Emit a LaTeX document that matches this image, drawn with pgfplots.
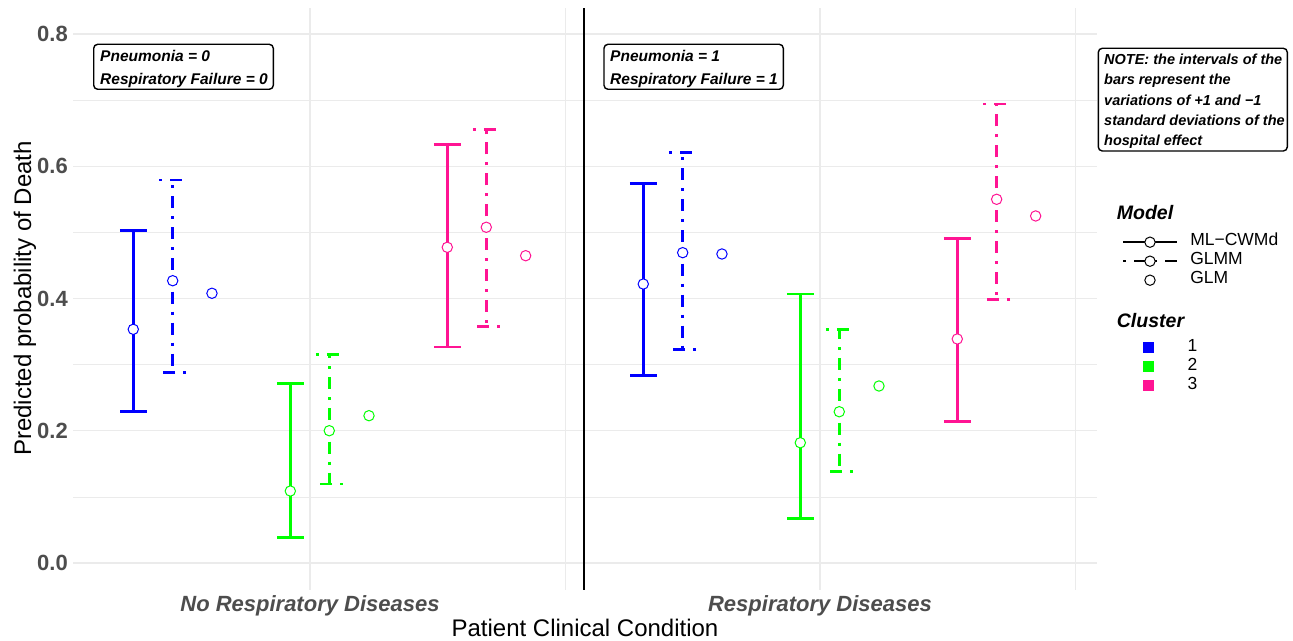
\documentclass[border=0pt]{standalone}
\usepackage{fontspec}
\setmainfont{Liberation Sans}
\usepackage{pgfplots}
\pgfplotsset{compat=1.18}
\definecolor{cA}{HTML}{0000FF}
\definecolor{cB}{HTML}{00FF00}
\definecolor{cC}{HTML}{FF1493}
\definecolor{tickgray}{HTML}{4D4D4D}
\definecolor{gridgray}{HTML}{EBEBEB}
\pgfplotsset{
  ptmark/.style={only marks, mark=*, mark size=5.2bp, mark options={solid, fill=white, draw=#1, line width=1bp}},
  mlbar/.style={ptmark=#1,
    error bars/.cd, y dir=both, y explicit,
    error bar style={#1, line width=2.6bp, solid},
    error mark options={rotate=90, #1, line width=2.6bp, mark size=13.5bp, solid}},
  glmmbar/.style={ptmark=#1,
    error bars/.cd, y dir=both, y explicit,
    error bar style={#1, line width=2.6bp, dash pattern=on 3bp off 8bp on 12bp off 8bp},
    error mark options={rotate=90, #1, line width=2.6bp, mark size=13.5bp, dash pattern=on 3bp off 8bp on 12bp off 8bp}},
  table/errtab/.style={x=x, y=y, y error plus expr=\thisrow{hi}-\thisrow{y}, y error minus expr=\thisrow{y}-\thisrow{lo}},
  frame/.style={at={(73bp,51.5bp)}, anchor=south west, scale only axis, width=1023.5bp, height=582bp},
  legbase/.style={legend cell align=left,
    legend style={anchor=north west, draw=none, fill=none, inner sep=0pt, outer sep=0pt,
      font=\fontsize{17.5bp}{21bp}\selectfont, row sep=0pt, column sep=0pt,
      nodes={inner sep=0pt, text height=13bp, text depth=6bp},
      /tikz/every odd column/.append style={column sep=12bp}}},
}
\begin{document}
\begin{tikzpicture}
\path[use as bounding box] (0bp,0bp) rectangle (1293bp,641bp);
\begin{axis}[frame, legbase,
  xmin=0.5353, xmax=2.5422, ymin=-0.04, ymax=0.84,
  xtick={1,2}, xticklabels={No Respiratory Diseases, Respiratory Diseases},
  minor xtick={1.5,2.5},
  ytick={0,0.2,0.4,0.6,0.8}, yticklabels={0.0,0.2,0.4,0.6,0.8},
  minor ytick={0.1,0.3,0.5,0.7},
  grid=both,
  major grid style={gridgray, line width=1.3bp},
  minor grid style={gridgray, line width=0.7bp},
  axis line style={draw=none},
  major tick length=0pt, minor tick length=0pt,
  xticklabel style={font=\fontsize{22bp}{26bp}\selectfont\bfseries\itshape, text=tickgray, anchor=base, yshift=-21.5bp},
  yticklabel style={font=\fontsize{22bp}{26bp}\selectfont\bfseries, text=tickgray, anchor=east, inner sep=0pt, xshift=-5bp},
  legend style={at={(axis description cs:1.02462,0.61306)}},
  legend image code/.code={\path[draw=none,fill=none] (0bp,0bp) -- (54bp,0bp); \draw[mark repeat=2,mark phase=2,#1] plot coordinates {(0bp,0bp) (27bp,0bp) (54bp,0bp)};},
]
% separator line
\addplot[forget plot, black, line width=1.5bp] coordinates {(1.5373,-0.04) (1.5373,0.84)};
% Cluster 1
\addplot[forget plot, mlbar=cA] table[errtab] {
x y lo hi
0.6535 0.3534 0.2288 0.5025
1.6535 0.4219 0.2833 0.5742
};
\addplot[forget plot, glmmbar=cA] table[errtab] {
x y lo hi
0.7308 0.4269 0.2878 0.5792
1.7308 0.4693 0.3232 0.6205
};
\addplot[forget plot, ptmark=cA] table[x=x,y=y] {
x y
0.8078 0.4079
1.8078 0.4673
};
% Cluster 2
\addplot[forget plot, mlbar=cB] table[errtab] {
x y lo hi
0.9614 0.1089 0.0383 0.2718
1.9614 0.1819 0.0670 0.4068
};
\addplot[forget plot, glmmbar=cB] table[errtab] {
x y lo hi
1.0378 0.2001 0.1195 0.3156
2.0378 0.2288 0.1381 0.3534
};
\addplot[forget plot, ptmark=cB] table[x=x,y=y] {
x y
1.1157 0.2228
2.1157 0.2677
};
% Cluster 3
\addplot[forget plot, mlbar=cC] table[errtab] {
x y lo hi
1.2692 0.4774 0.3267 0.6326
2.2692 0.3388 0.2137 0.4910
};
\addplot[forget plot, glmmbar=cC] table[errtab] {
x y lo hi
1.3457 0.5077 0.3580 0.6559
2.3464 0.5500 0.3988 0.6941
};
\addplot[forget plot, ptmark=cC] table[x=x,y=y] {
x y
1.4229 0.4647
2.4229 0.5248
};
\addlegendimage{black, line width=2.6bp, mark=*, mark size=5.2bp, mark options={solid, fill=white, line width=1bp}}
\addlegendentry{ML−CWMd}
\addlegendimage{black, line width=2.6bp, dash pattern=on 3bp off 8bp on 12bp off 8bp, mark=*, mark size=5.2bp, mark options={solid, fill=white, line width=1bp}}
\addlegendentry{GLMM}
\addlegendimage{legend image code/.code={\path[draw=none,fill=none] (0bp,0bp) -- (54bp,0bp); \draw[draw=none, mark=*, mark size=5.2bp, mark options={draw=black, fill=white, line width=1bp}] plot coordinates {(27bp,0bp)};}}
\addlegendentry{GLM}
\end{axis}
\begin{axis}[frame, legbase, hide axis, xmin=0, xmax=1, ymin=0, ymax=1,
  legend style={at={(axis description cs:1.02462,0.43144)}},
  legend image code/.code={\path[draw=none,fill=none] (0bp,0bp) -- (54bp,0bp); \fill[#1,draw=none] (21.5bp,-5.5bp) rectangle (32.5bp,5.5bp);},
]
\addlegendimage{cA}\addlegendentry{1}
\addlegendimage{cB}\addlegendentry{2}
\addlegendimage{cC}\addlegendentry{3}
\end{axis}
% legend titles
\node[anchor=base west, inner sep=0pt, font=\fontsize{19.5bp}{23bp}\selectfont\bfseries\itshape] at (1116.7bp,421bp) {Model};
\node[anchor=base west, inner sep=0pt, font=\fontsize{19.5bp}{23bp}\selectfont\bfseries\itshape] at (1116.7bp,313bp) {Cluster};
% axis titles
\node[anchor=base, inner sep=0pt, font=\fontsize{24bp}{28bp}\selectfont] at (585bp,4.4bp) {Patient Clinical Condition};
\node[anchor=base, rotate=90, inner sep=0pt, font=\fontsize{24bp}{28bp}\selectfont] at (31bp,342.5bp) {Predicted probability of Death};
% annotation boxes
\draw[line width=1.4bp, rounded corners=4bp] (93.7bp,596.7bp) rectangle (273.3bp,551.7bp);
\node[anchor=base west, inner sep=0pt, font=\fontsize{15.5bp}{18bp}\selectfont\bfseries\itshape] at (100bp,579.5bp) {Pneumonia = 0};
\node[anchor=base west, inner sep=0pt, font=\fontsize{15.5bp}{18bp}\selectfont\bfseries\itshape] at (100bp,556.5bp) {Respiratory Failure = 0};
\draw[line width=1.4bp, rounded corners=4bp] (604bp,596.7bp) rectangle (783.3bp,551.7bp);
\node[anchor=base west, inner sep=0pt, font=\fontsize{15.5bp}{18bp}\selectfont\bfseries\itshape] at (610bp,579.5bp) {Pneumonia = 1};
\node[anchor=base west, inner sep=0pt, font=\fontsize{15.5bp}{18bp}\selectfont\bfseries\itshape] at (610bp,556.5bp) {Respiratory Failure = 1};
\draw[line width=1.4bp, rounded corners=4bp] (1098.3bp,592.7bp) rectangle (1287.3bp,490bp);
\begin{scope}[every node/.style={anchor=base west, inner sep=0pt, font=\fontsize{14.5bp}{17bp}\selectfont\bfseries\itshape}]
\node at (1104bp,576.5bp) {NOTE: the intervals of the};
\node at (1104bp,556.15bp) {bars represent the};
\node at (1104bp,535.8bp) {variations of +1 and −1};
\node at (1104bp,515.45bp) {standard deviations of the};
\node at (1104bp,495.1bp) {hospital effect};
\end{scope}
\end{tikzpicture}
\end{document}
